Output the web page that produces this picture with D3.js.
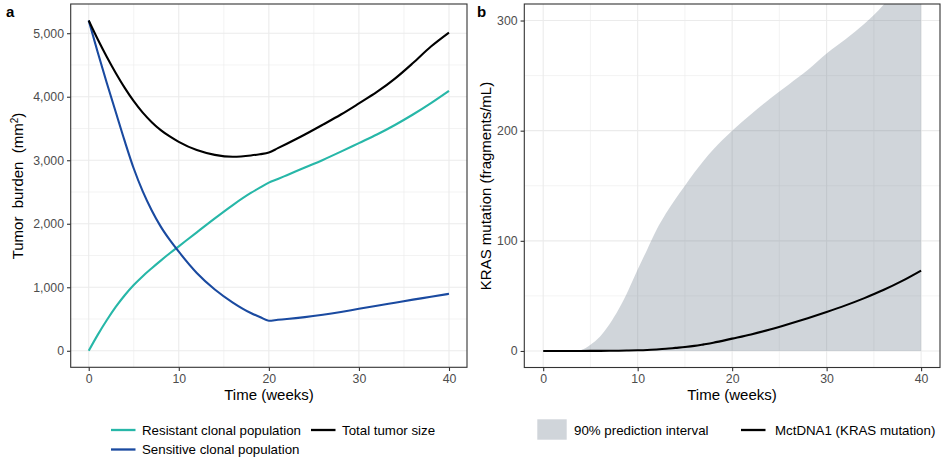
<!DOCTYPE html>
<html>
<head>
<meta charset="utf-8">
<script src="https://cdn.jsdelivr.net/npm/d3@7/dist/d3.min.js"></script>
<style>
  html, body { margin: 0; padding: 0; background: #fff; }
  svg { display: block; font-family: "Liberation Sans", Arial, Helvetica, sans-serif; }
</style>
</head>
<body>
<svg id="fig" width="941" height="461"></svg>
<script>
// ---- Panel a: simulated tumour burden by clone ----
const weeksA = [0,1,2,3,4,5,6,7,8,9,10,12,14,16,18,19,20,21,22,24,26,28,30,32,34,36,38,40];
const resistant = [0,250,480,690,875,1035,1175,1300,1420,1535,1645,1865,2085,2295,2485,2568,2647,2705,2765,2885,3005,3135,3270,3405,3555,3720,3900,4093];
const sensitive = [5200,4700,4220,3760,3300,2870,2510,2210,1955,1745,1560,1225,965,760,595,532,474,488,500,530,568,612,661,708,757,806,850,897];
const total = [5200,4905,4630,4375,4140,3930,3750,3600,3475,3375,3290,3160,3085,3055,3075,3095,3121,3190,3260,3405,3560,3720,3895,4075,4285,4530,4790,5010];
const ticksA_x = [0,10,20,30,40];
const ticksA_y = [0,1000,2000,3000,4000,5000];

// ---- Panel b: predicted KRAS-mutant ctDNA ----
const weeksB = [0,1,2,3,4,5,6,7,8,9,10,11,12,13,14,15,16,17,18,20,22,24,26,28,30,32,34,36,38,40];
const piLower = [0,0,0,0,0,0,0,0,0,0,0,0,0,0,0,0,0,0,0,0,0,0,0,0,0,0,0,0,0,0];
const piUpper = [0,0,0,0.3,1,5.7,13,24,38,55,74,92,110,125,138,150,162,173,183,200,215,229,242,255,270,283,297,314,338,362];
const ctdna = [0,0,0,0,0,0.05,0.1,0.15,0.25,0.4,0.6,0.9,1.4,2,2.8,3.6,4.6,6,7.5,11.2,15,19.5,24.5,29.8,35.4,41.4,48,55.3,63.6,73];
const ticksB_x = [0,10,20,30,40];
const ticksB_y = [0,100,200,300];

const svg = d3.select("#fig");
const gridCol = "#ebebeb", borderCol = "#333333", tickTextCol = "#4d4d4d";
const teal = "#27b7a8", blue = "#1a4aa0";

function panel(opts) {
  const { left, right, top, bottom, xDomain, yDomain, xTicks, yTicks, xMinor, yMinor, yFmt, id } = opts;
  const x = d3.scaleLinear().domain(xDomain).range([left, right]);
  const y = d3.scaleLinear().domain(yDomain).range([bottom, top]);
  const g = svg.append("g");
  g.append("clipPath").attr("id", id).append("rect")
    .attr("x", left).attr("y", top).attr("width", right - left).attr("height", bottom - top);
  // grid
  const grid = g.append("g");
  grid.selectAll(".vmin").data(xMinor).join("line")
    .attr("x1", d => x(d)).attr("x2", d => x(d)).attr("y1", top).attr("y2", bottom)
    .attr("stroke", gridCol).attr("stroke-width", 0.6);
  grid.selectAll(".hmin").data(yMinor).join("line")
    .attr("y1", d => y(d)).attr("y2", d => y(d)).attr("x1", left).attr("x2", right)
    .attr("stroke", gridCol).attr("stroke-width", 0.6);
  grid.selectAll(".vmaj").data(xTicks).join("line")
    .attr("x1", d => x(d)).attr("x2", d => x(d)).attr("y1", top).attr("y2", bottom)
    .attr("stroke", gridCol).attr("stroke-width", 1.1);
  grid.selectAll(".hmaj").data(yTicks).join("line")
    .attr("y1", d => y(d)).attr("y2", d => y(d)).attr("x1", left).attr("x2", right)
    .attr("stroke", gridCol).attr("stroke-width", 1.1);
  const plot = g.append("g").attr("clip-path", `url(#${id})`);
  // axes
  const xAxis = g.append("g").attr("transform", `translate(0,${bottom})`)
    .call(d3.axisBottom(x).tickValues(xTicks).tickSize(3.7).tickPadding(3));
  const yAxis = g.append("g").attr("transform", `translate(${left},0)`)
    .call(d3.axisLeft(y).tickValues(yTicks).tickSize(3.7).tickPadding(3).tickFormat(yFmt));
  [xAxis, yAxis].forEach(a => {
    a.select(".domain").remove();
    a.selectAll("line").attr("stroke", borderCol).attr("stroke-width", 1.1);
    a.selectAll("text").attr("fill", tickTextCol).style("font-size", "12.3px")
      .style("font-family", '"Liberation Sans", Arial, sans-serif');
  });
  return { x, y, g, plot, border: () => g.append("rect")
    .attr("x", left).attr("y", top).attr("width", right - left).attr("height", bottom - top)
    .attr("fill", "none").attr("stroke", borderCol).attr("stroke-width", 1.1) };
}

// ---------- Panel a ----------
const A = panel({
  id: "clipA", left: 70.7, right: 467, top: 4, bottom: 367.3,
  xDomain: [-2, 42], yDomain: [-260, 5460],
  xTicks: ticksA_x, yTicks: ticksA_y,
  xMinor: [5, 15, 25, 35], yMinor: [500, 1500, 2500, 3500, 4500],
  yFmt: d3.format(",")
});
const lineA = vals => d3.line().curve(d3.curveMonotoneX)
  .x((d, i) => A.x(weeksA[i])).y(d => A.y(d))(vals);
[[resistant, teal], [sensitive, blue], [total, "#000"]].forEach(([vals, col]) => {
  A.plot.append("path").attr("d", lineA(vals)).attr("fill", "none")
    .attr("stroke", col).attr("stroke-width", 2.1).attr("stroke-linejoin", "round");
});
A.border();

svg.append("text").attr("x", 269).attr("y", 400).attr("text-anchor", "middle")
  .style("font-size", "15px").text("Time (weeks)");
svg.append("text").attr("transform", "translate(23,186) rotate(-90)").attr("text-anchor", "middle")
  .style("font-size", "15px")
  .html('Tumor\u00a0 burden\u00a0 (mm<tspan baseline-shift="super" font-size="10px">2</tspan>)');
svg.append("text").attr("x", 6).attr("y", 17).style("font-size", "15px").style("font-weight", "bold").text("a");

// legend a
const legA = [
  { label: "Resistant clonal population", col: teal, x: 111, y: 430 },
  { label: "Sensitive clonal population", col: blue, x: 111, y: 449.5 },
  { label: "Total tumor size", col: "#000", x: 311, y: 430 }
];
legA.forEach(d => {
  svg.append("line").attr("x1", d.x).attr("x2", d.x + 24.5).attr("y1", d.y).attr("y2", d.y)
    .attr("stroke", d.col).attr("stroke-width", 2.3);
  svg.append("text").attr("x", d.x + 31).attr("y", d.y + 4.7).style("font-size", "13.3px").text(d.label);
});

// ---------- Panel b ----------
const B = panel({
  id: "clipB", left: 524.3, right: 940, top: 4, bottom: 367.5,
  xDomain: [-2, 42], yDomain: [-15, 315],
  xTicks: ticksB_x, yTicks: ticksB_y,
  xMinor: [5, 15, 25, 35], yMinor: [50, 150, 250],
  yFmt: d3.format("d")
});
const area = d3.area().curve(d3.curveMonotoneX)
  .x((d, i) => B.x(weeksB[i])).y0((d, i) => B.y(piLower[i])).y1(d => B.y(d));
B.plot.append("path").attr("d", area(piUpper)).attr("fill", "#708090").attr("fill-opacity", 0.33);
B.plot.append("path")
  .attr("d", d3.line().curve(d3.curveMonotoneX).x((d, i) => B.x(weeksB[i])).y(d => B.y(d))(ctdna))
  .attr("fill", "none").attr("stroke", "#000").attr("stroke-width", 2.1);
B.border();

svg.append("text").attr("x", 732).attr("y", 400).attr("text-anchor", "middle")
  .style("font-size", "15px").text("Time (weeks)");
svg.append("text").attr("transform", "translate(491,186) rotate(-90)").attr("text-anchor", "middle")
  .style("font-size", "15px").text("KRAS mutation (fragments/mL)");
svg.append("text").attr("x", 477).attr("y", 17).style("font-size", "15px").style("font-weight", "bold").text("b");

// legend b
svg.append("rect").attr("x", 537.3).attr("y", 419.3).attr("width", 29.4).attr("height", 20.4)
  .attr("fill", "#708090").attr("fill-opacity", 0.33);
svg.append("text").attr("x", 574).attr("y", 434.5).style("font-size", "13.3px").text("90% prediction interval");
svg.append("line").attr("x1", 741).attr("x2", 765.5).attr("y1", 430).attr("y2", 430)
  .attr("stroke", "#000").attr("stroke-width", 2.3);
svg.append("text").attr("x", 775).attr("y", 434.5).style("font-size", "13.3px").text("MctDNA1 (KRAS mutation)");
</script>
</body>
</html>
